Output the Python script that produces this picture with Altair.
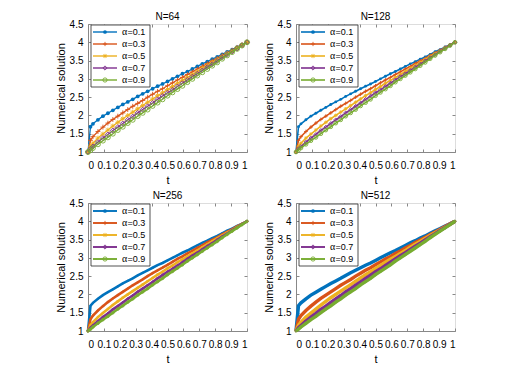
import altair as alt
import pandas as pd

# ---------------- data ----------------
alphas = ["0.1", "0.3", "0.5", "0.7", "0.9"]
panels = ["N=64", "N=128", "N=256", "N=512"]
t_vals = [0.0, 0.015625] + [k / 32 for k in range(1, 33)]

u_01 = [1.00, 1.69, 1.77, 1.88, 1.98, 2.06, 2.14, 2.22, 2.30, 2.37, 2.44, 2.52, 2.59, 2.66, 2.73, 2.80, 2.86,
        2.93, 3.00, 3.07, 3.14, 3.20, 3.27, 3.34, 3.41, 3.47, 3.54, 3.60, 3.67, 3.74, 3.80, 3.87, 3.93, 4.00]
u_03 = [1.00, 1.32, 1.42, 1.56, 1.68, 1.79, 1.89, 1.98, 2.07, 2.16, 2.25, 2.33, 2.41, 2.50, 2.58, 2.66, 2.73,
        2.81, 2.89, 2.97, 3.04, 3.12, 3.19, 3.27, 3.34, 3.42, 3.49, 3.56, 3.64, 3.71, 3.78, 3.86, 3.93, 4.00]
u_05 = [1.00, 1.16, 1.24, 1.38, 1.49, 1.60, 1.71, 1.81, 1.91, 2.00, 2.09, 2.18, 2.27, 2.36, 2.45, 2.54, 2.62,
        2.71, 2.79, 2.88, 2.96, 3.04, 3.12, 3.20, 3.29, 3.37, 3.45, 3.53, 3.61, 3.69, 3.76, 3.84, 3.92, 4.00]
u_07 = [1.00, 1.09, 1.15, 1.27, 1.38, 1.48, 1.59, 1.68, 1.78, 1.88, 1.97, 2.07, 2.16, 2.25, 2.34, 2.44, 2.53,
        2.62, 2.70, 2.79, 2.88, 2.97, 3.06, 3.14, 3.23, 3.32, 3.40, 3.49, 3.58, 3.66, 3.75, 3.83, 3.92, 4.00]
u_09 = [1.00, 1.05, 1.11, 1.21, 1.31, 1.40, 1.50, 1.60, 1.69, 1.79, 1.88, 1.98, 2.07, 2.16, 2.26, 2.35, 2.44,
        2.54, 2.63, 2.72, 2.81, 2.91, 3.00, 3.09, 3.18, 3.27, 3.36, 3.45, 3.55, 3.64, 3.73, 3.82, 3.91, 4.00]
series = [u_01, u_03, u_05, u_07, u_09]

x_ticks = [0, 0.1, 0.2, 0.3, 0.4, 0.5, 0.6, 0.7, 0.8, 0.9, 1]
y_ticks = [1, 1.5, 2, 2.5, 3, 3.5, 4, 4.5]

# ---------------- style ----------------
colors = ["#0072BD", "#D95319", "#EDB120", "#7E2F8E", "#77AC30"]
PLUS = "M-1,0L1,0M0,-1L0,1"
STAR = "M-1,0L1,0M0,-1L0,1M-0.7,-0.7L0.7,0.7M-0.7,0.7L0.7,-0.7"
shapes = ["circle", PLUS, STAR, "diamond", "circle"]
filled = [True, False, False, False, False]
FONT = "Liberation Sans"
AX = "#262626"
W, H = 159, 128

# per-panel style: line width, marker size, whether markers are drawn
panel_style = [(1.3, 24, True), (1.6, 14, True), (2.6, 7, True), (3.4, 5, True)]

xscale = alt.Scale(domain=[0, 1], nice=False, zero=False)
yscale = alt.Scale(domain=[1, 4.5], nice=False, zero=False)
tick_in = alt.ExprRef(expr="-3")


def panel(title, lw, ms, markers):
    layers = []
    for i, a in enumerate(alphas):
        d = pd.DataFrame({"t": t_vals, "u": series[i]})
        if i == 0:
            x = alt.X("t:Q", scale=xscale, axis=alt.Axis(
                orient="bottom", values=x_ticks, format=".1~f", title="t",
                tickSize=tick_in, labelPadding=11, titlePadding=4, grid=False,
                titleFontWeight="normal"))
            y = alt.Y("u:Q", scale=yscale, axis=alt.Axis(
                orient="left", values=y_ticks, format=".1~f", title="Numerical solution",
                tickSize=tick_in, labelPadding=8, titlePadding=3, grid=False,
                titleFontWeight="normal"))
        else:
            x = alt.X("t:Q", scale=xscale, axis=None)
            y = alt.Y("u:Q", scale=yscale, axis=None)
        layers.append(alt.Chart(d).mark_line(color=colors[i], strokeWidth=lw).encode(x=x, y=y))
        if markers:
            if filled[i]:
                pm = alt.Chart(d).mark_point(shape=shapes[i], filled=True, color=colors[i],
                                             size=ms * 0.6, opacity=1)
            else:
                pm = alt.Chart(d).mark_point(shape=shapes[i], filled=False, color=colors[i],
                                             size=ms, strokeWidth=0.9, opacity=1)
            layers.append(pm.encode(x=alt.X("t:Q", scale=xscale, axis=None),
                                    y=alt.Y("u:Q", scale=yscale, axis=None)))
    # ticks on top and right (MATLAB box)
    d0 = pd.DataFrame({"t": [0.5], "u": [2.0]})
    layers.append(alt.Chart(d0).mark_point(opacity=0).encode(
        x=alt.X("t:Q", scale=xscale, axis=alt.Axis(orient="top", values=x_ticks, labels=False,
                                                   title=None, tickSize=tick_in, domain=False, grid=False)),
        y=alt.Y("u:Q", scale=yscale, axis=alt.Axis(orient="right", values=y_ticks, labels=False,
                                                   title=None, tickSize=tick_in, domain=False, grid=False))))
    # legend box
    one = pd.DataFrame({"k": [0]})
    layers.append(alt.Chart(one).mark_rect(fill="white", stroke=AX, strokeWidth=0.8).encode(
        x=alt.value(3), x2=alt.value(62), y=alt.value(1), y2=alt.value(63)))
    for i, a in enumerate(alphas):
        ly = 8 + 12 * i
        layers.append(alt.Chart(one).mark_rule(color=colors[i], strokeWidth=min(max(lw, 1.4), 1.9)).encode(
            x=alt.value(5), x2=alt.value(29), y=alt.value(ly)))
        if filled[i]:
            lm = alt.Chart(one).mark_point(shape=shapes[i], filled=True, color=colors[i], size=14, opacity=1)
        else:
            lm = alt.Chart(one).mark_point(shape=shapes[i], filled=False, color=colors[i], size=18,
                                           strokeWidth=0.9, opacity=1)
        layers.append(lm.encode(x=alt.value(17), y=alt.value(ly)))
        layers.append(alt.Chart(pd.DataFrame({"s": ["\u03b1"]})).mark_text(
            align="left", baseline="middle", font="Liberation Serif", fontSize=10, color="black").encode(
            x=alt.value(34), y=alt.value(ly), text="s:N"))
        layers.append(alt.Chart(pd.DataFrame({"s": ["=" + a]})).mark_text(
            align="left", baseline="middle", font=FONT, fontSize=9, color="black").encode(
            x=alt.value(39.5), y=alt.value(ly), text="s:N"))
    return alt.layer(*layers).properties(
        width=W, height=H,
        title=alt.TitleParams(title, fontSize=10, fontWeight="normal", font=FONT, color="black", offset=-3))


p = [panel(panels[k], *panel_style[k]) for k in range(4)]
chart = alt.concat(*p, columns=2, spacing={"row": 51, "column": 49}, bounds="flush").properties(
    padding={"left": 46, "top": 3, "right": 5, "bottom": 5}
).configure_view(stroke=AX, strokeWidth=0.8).configure_axis(
    labelFont=FONT, titleFont=FONT, labelFontSize=8.5, titleFontSize=10,
    labelColor=AX, titleColor=AX, domainColor=AX, tickColor=AX,
    domainWidth=0.8, tickWidth=0.8, titleFontWeight="normal"
).configure(background="white")

chart.save("out.html", embed_options={"renderer": "svg", "actions": False})
